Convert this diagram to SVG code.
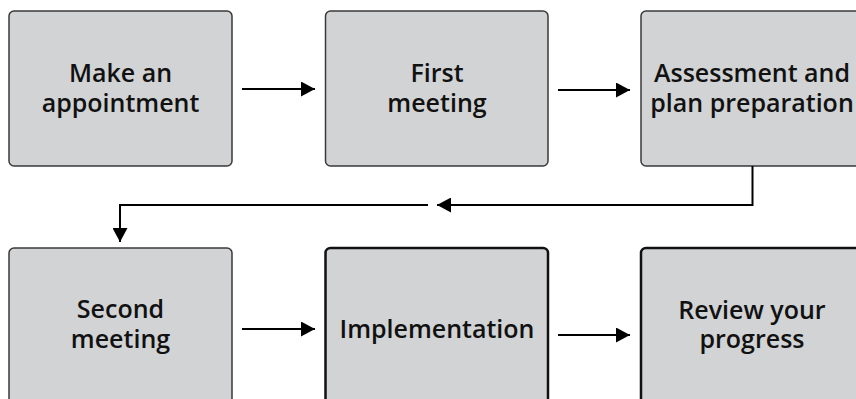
<svg xmlns="http://www.w3.org/2000/svg" width="856" height="399" viewBox="0 0 856 399">
<style>
.box{fill:#d1d3d4;stroke:#3a3a3a;stroke-width:1.5}
.box.thick{stroke:#111;stroke-width:2.5}
.lbl{font-family:"Open Sans","Noto Sans",sans-serif;font-weight:600;font-size:25px;fill:#111;text-anchor:middle}
.conn{fill:none;stroke:#000;stroke-width:2}
</style>
<defs>
<marker id="ah" markerUnits="userSpaceOnUse" markerWidth="15" markerHeight="15" refX="14" refY="7.5" orient="auto">
<path d="M0,0 L14,7.5 L0,15 z" fill="#000"/>
</marker>
</defs>
<rect width="856" height="399" fill="#fff"/>
<g id="n1"><rect class="box" x="9" y="11" width="223" height="155" rx="5"/><text class="lbl" x="120.5" y="82">Make an</text><text class="lbl" x="120.5" y="112">appointment</text></g>
<g id="n2"><rect class="box" x="325.5" y="11" width="222.5" height="155" rx="5"/><text class="lbl" x="437" y="82">First</text><text class="lbl" x="437" y="112">meeting</text></g>
<g id="n3"><rect class="box" x="641" y="11" width="223" height="155" rx="5"/><text class="lbl" x="752" y="82">Assessment and</text><text class="lbl" x="752" y="112">plan preparation</text></g>
<g id="n4"><rect class="box" x="9" y="248" width="223" height="160" rx="5"/><text class="lbl" x="120.5" y="318">Second</text><text class="lbl" x="120.5" y="348">meeting</text></g>
<g id="n5"><rect class="box thick" x="325.5" y="248" width="222.5" height="160" rx="5"/><text class="lbl" x="437" y="338">Implementation</text></g>
<g id="n6"><rect class="box thick" x="641" y="248" width="223" height="160" rx="5"/><text class="lbl" x="752" y="319">Review your</text><text class="lbl" x="752" y="348">progress</text></g>
<g id="connectors">
<path class="conn" d="M242,89 H315" marker-end="url(#ah)"/>
<path class="conn" d="M558,90 H630" marker-end="url(#ah)"/>
<path class="conn" d="M752.5,166 V205 H437" marker-end="url(#ah)"/>
<path class="conn" d="M428,205 H120 V242" marker-end="url(#ah)"/>
<path class="conn" d="M242,329 H315" marker-end="url(#ah)"/>
<path class="conn" d="M558,335 H630" marker-end="url(#ah)"/>
</g>
</svg>
